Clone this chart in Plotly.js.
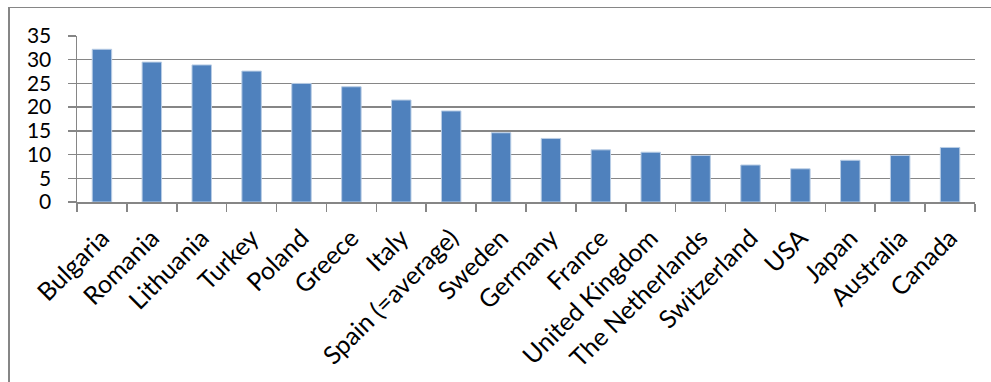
<!DOCTYPE html>
<html>
<head>
<meta charset="utf-8">
<script src="https://cdn.plot.ly/plotly-3.0.1.min.js"></script>
<style>
html,body{margin:0;padding:0;background:#fff;}
#wrap{position:relative;width:991px;height:382px;}
#chart{position:absolute;left:0;top:0;width:991px;height:382px;}
#frame{position:absolute;left:8px;top:7px;width:983px;height:375px;border-top:1px solid #868686;border-left:2px solid #868686;box-sizing:border-box;pointer-events:none;}
</style>
</head>
<body>
<div id="wrap"><div id="chart"></div><div id="frame"></div></div>
<script>
const countries = ["Bulgaria","Romania","Lithuania","Turkey","Poland","Greece","Italy","Spain (=average)","Sweden","Germany","France","United Kingdom","The Netherlands","Switzerland","USA","Japan","Australia","Canada"];
const values = [32.2,29.5,28.9,27.6,25.0,24.3,21.5,19.2,14.6,13.4,11.0,10.5,9.8,7.8,7.0,8.8,9.8,11.5];
const yTicks = [0,5,10,15,20,25,30,35];

const trace = {
  type: "bar",
  x: countries,
  y: values,
  marker: {color: "#4F81BD", line: {color: "#B9CDE5", width: 1}},
  hoverinfo: "x+y"
};

const layout = {
  width: 991, height: 382,
  margin: {l: 77, r: 16, t: 36, b: 180},
  paper_bgcolor: "rgba(0,0,0,0)",
  plot_bgcolor: "#fff",
  bargap: 0.61,
  showlegend: false,
  font: {family: "Lato, 'Open Sans', sans-serif", color: "#000"},
  xaxis: {
    type: "category",
    tickangle: -45,
    tickfont: {size: 25, family: "Lato, sans-serif", color: "#000"},
    ticklabelstandoff: 10,
    showline: true, linecolor: "#868686", linewidth: 1.5,
    ticks: "outside", tickson: "boundaries", ticklen: 8, tickcolor: "#868686", tickwidth: 1.5,
    showgrid: false, automargin: false
  },
  yaxis: {
    range: [0, 35],
    tickvals: yTicks,
    ticktext: yTicks.map(String),
    tickfont: {size: 21, family: "Lato, sans-serif", color: "#000"},
    ticklabelstandoff: 12,
    showline: true, linecolor: "#868686", linewidth: 1.5,
    ticks: "outside", ticklen: 8, tickcolor: "#868686", tickwidth: 1.5,
    showgrid: true, gridcolor: "#868686", gridwidth: 1.5,
    zeroline: false, automargin: false
  }
};

Plotly.newPlot("chart", [trace], layout, {displayModeBar: false, staticPlot: true});
</script>
</body>
</html>
